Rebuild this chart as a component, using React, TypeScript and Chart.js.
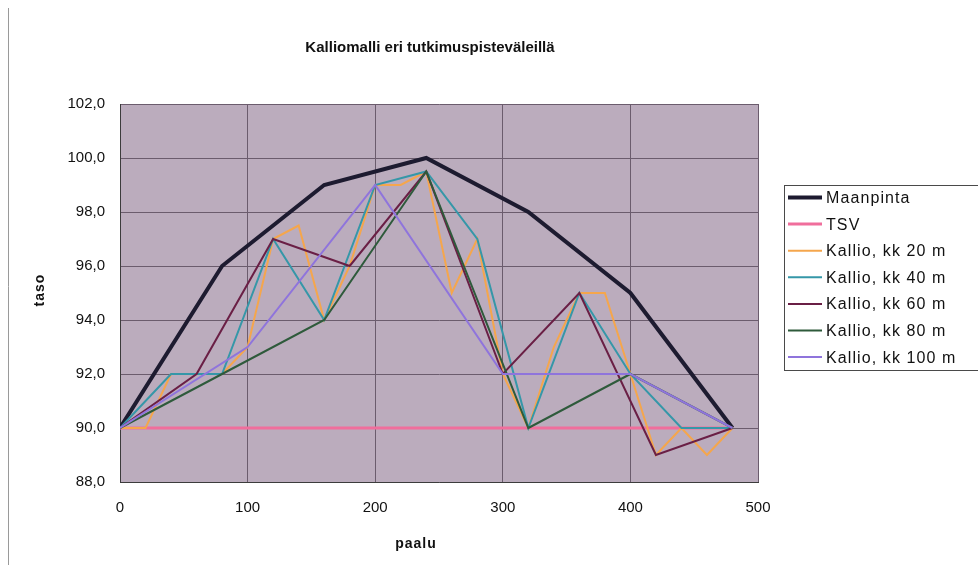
import { useEffect, useRef } from "react";
import { Chart, registerables } from "chart.js";

Chart.register(...registerables);

const FONT = '"Liberation Sans", Arial, Helvetica, sans-serif';

const chartTitle = "Kalliomalli eri tutkimuspisteväleillä";
const xAxisTitle = "paalu";
const yAxisTitle = "taso";

// Axis ranges (paalu / taso)
const xMin = 0;
const xMax = 500;
const xStep = 100;
const yMin = 88;
const yMax = 102;
const yStep = 2;

// Series: station (paalu) and level (taso)
const maanpintaPaalu = [0, 80, 160, 240, 320, 400, 480];
const maanpintaTaso = [90, 96, 99, 100, 98, 95, 90];

const tsvPaalu = [0, 480];
const tsvTaso = [90, 90];

const kk20Paalu = [0, 20, 40, 60, 80, 100, 120, 140, 160, 180, 200, 220, 240, 260, 280, 300, 320, 340, 360, 380, 400, 420, 440, 460, 480];
const kk20Taso = [90, 90, 92, 92, 92, 93, 97, 97.5, 94, 96, 99, 99, 99.5, 95, 97, 92, 90, 93, 95, 95, 92, 89, 90, 89, 90];

const kk40Paalu = [0, 40, 80, 120, 160, 200, 240, 280, 320, 360, 400, 440, 480];
const kk40Taso = [90, 92, 92, 97, 94, 99, 99.5, 97, 90, 95, 92, 90, 90];

const kk60Paalu = [0, 60, 120, 180, 240, 300, 360, 420, 480];
const kk60Taso = [90, 92, 97, 96, 99.5, 92, 95, 89, 90];

const kk80Paalu = [0, 80, 160, 240, 320, 400, 480];
const kk80Taso = [90, 92, 94, 99.5, 90, 92, 90];

const kk100Paalu = [0, 100, 200, 300, 400, 480];
const kk100Taso = [90, 93, 99, 92, 92, 90];

const seriesLabels = [
  "Maanpinta",
  "TSV",
  "Kallio, kk 20 m",
  "Kallio, kk 40 m",
  "Kallio, kk 60 m",
  "Kallio, kk 80 m",
  "Kallio, kk 100 m",
];

const seriesPaalu = [maanpintaPaalu, tsvPaalu, kk20Paalu, kk40Paalu, kk60Paalu, kk80Paalu, kk100Paalu];
const seriesTaso = [maanpintaTaso, tsvTaso, kk20Taso, kk40Taso, kk60Taso, kk80Taso, kk100Taso];

const lineStyles = [
  { color: "#1d1b30", width: 4 },
  { color: "#f06e9c", width: 3 },
  { color: "#f5a64c", width: 2 },
  { color: "#3597a8", width: 2 },
  { color: "#6a1f45", width: 2 },
  { color: "#2e5a3b", width: 2 },
  { color: "#8f74dc", width: 2 },
];

const PLOT_BG = "#bbacbd";
const GRID = "#6b5c6d";
const TEXT = "#111111";

// Grey plot area behind grid and lines
const plotBackground = {
  id: "plotBackground",
  beforeDraw(chart: any) {
    const { ctx, chartArea: a } = chart;
    ctx.save();
    ctx.fillStyle = PLOT_BG;
    ctx.fillRect(a.left, a.top, a.right - a.left, a.bottom - a.top);
    ctx.restore();
  },
};

// Title, axis titles, framed legend and outer frame
const decorations = {
  id: "decorations",
  afterDraw(chart: any) {
    const { ctx, chartArea: a, height } = chart;
    const cx = (a.left + a.right) / 2;
    const cy = (a.top + a.bottom) / 2;
    ctx.save();

    // outer frame (left edge)
    ctx.strokeStyle = "#9a9a9a";
    ctx.lineWidth = 1;
    ctx.beginPath();
    ctx.moveTo(0.5, 0);
    ctx.lineTo(0.5, height);
    ctx.stroke();

    ctx.fillStyle = TEXT;
    ctx.textAlign = "center";
    ctx.textBaseline = "middle";
    ctx.font = `bold 15px ${FONT}`;
    ctx.fillText(chartTitle, cx - 9, a.top - 56);

    ctx.font = `bold 14px ${FONT}`;
    (ctx as any).letterSpacing = "1px";
    ctx.fillText(xAxisTitle, cx - 23, a.bottom + 62);

    ctx.save();
    ctx.translate(a.left - 80, cy - 3);
    ctx.rotate(-Math.PI / 2);
    ctx.fillText(yAxisTitle, 0, 0);
    ctx.restore();

    // legend
    const lx = a.right + 26;
    const ly = a.top + 81;
    ctx.strokeStyle = "#4a4a4a";
    ctx.lineWidth = 1;
    ctx.strokeRect(lx + 0.5, ly + 0.5, 260, 185);

    ctx.font = `16px ${FONT}`;
    (ctx as any).letterSpacing = "1.1px";
    ctx.textAlign = "left";
    chart.data.datasets.forEach((ds: any, i: number) => {
      const y = ly + 12.5 + i * 26.6;
      ctx.strokeStyle = ds.borderColor;
      ctx.lineWidth = ds.borderWidth;
      ctx.beginPath();
      ctx.moveTo(lx + 4, y);
      ctx.lineTo(lx + 38, y);
      ctx.stroke();
      ctx.fillStyle = TEXT;
      ctx.fillText(ds.label, lx + 42, y + 1);
    });
    ctx.restore();
  },
};

export default function App() {
  const canvasRef = useRef<HTMLCanvasElement | null>(null);

  useEffect(() => {
    const canvas = canvasRef.current;
    if (!canvas) return;

    const datasets = seriesLabels.map((label, i) => ({
      label,
      data: seriesPaalu[i].map((x, j) => ({ x, y: seriesTaso[i][j] })),
      borderColor: lineStyles[i].color,
      backgroundColor: lineStyles[i].color,
      borderWidth: lineStyles[i].width,
      pointRadius: 0,
      tension: 0,
      fill: false,
      order: seriesLabels.length - i,
    }));

    const chart = new Chart(canvas, {
      type: "line",
      data: { datasets },
      options: {
        responsive: false,
        animation: false,
        layout: { padding: { top: 96, right: 220, left: 0, bottom: 0 } },
        plugins: {
          legend: { display: false },
          title: { display: false },
          tooltip: { enabled: false },
        },
        scales: {
          x: {
            type: "linear",
            min: xMin,
            max: xMax,
            ticks: {
              stepSize: xStep,
              padding: 17,
              color: TEXT,
              font: { family: FONT, size: 15 },
            },
            grid: { color: GRID, lineWidth: 1, drawTicks: false },
            border: { color: "#3c3c3c", width: 1 },
            afterFit(scale: any) {
              scale.height = 83;
            },
          },
          y: {
            type: "linear",
            min: yMin,
            max: yMax,
            ticks: {
              stepSize: yStep,
              padding: 15,
              color: TEXT,
              font: { family: FONT, size: 15 },
              callback: (v: any) => Number(v).toFixed(1).replace(".", ","),
            },
            grid: { color: GRID, lineWidth: 1, drawTicks: false },
            border: { color: "#3c3c3c", width: 1 },
            afterFit(scale: any) {
              scale.width = 112;
            },
          },
        },
      } as any,
      plugins: [plotBackground, decorations],
    });

    return () => chart.destroy();
  }, []);

  return (
    <div style={{ position: "fixed", left: 8, top: 8, width: 970, height: 557, background: "#ffffff" }}>
      <canvas ref={canvasRef} width={970} height={557} style={{ display: "block" }} />
    </div>
  );
}
